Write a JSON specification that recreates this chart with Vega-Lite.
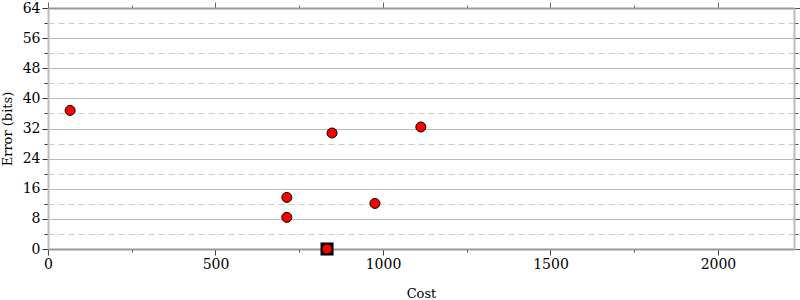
{
  "$schema": "https://vega.github.io/schema/vega-lite/v6.json",
  "width": 746,
  "height": 241,
  "autosize": {"type": "none"},
  "padding": {"left": 48, "top": 8, "right": 6, "bottom": 51},
  "background": "white",
  "config": {
    "view": {"stroke": null},
    "font": "DejaVu Serif",
    "axis": {"labelFont": "DejaVu Serif", "titleFont": "DejaVu Serif", "labelFontSize": 14, "titleFontSize": 13, "titleFontWeight": "normal", "labelColor": "black", "titleColor": "black"}
  },
  "data": {"values": [
    {"cost": 66, "error": 36.8, "best": false},
    {"cost": 848, "error": 30.8, "best": false},
    {"cost": 1113, "error": 32.4, "best": false},
    {"cost": 713, "error": 13.7, "best": false},
    {"cost": 713, "error": 8.4, "best": false},
    {"cost": 976, "error": 12.1, "best": false},
    {"cost": 833, "error": 0, "best": true}
  ]},
  "resolve": {"axis": {"x": "independent", "y": "independent"}},
  "layer": [
    {
      "transform": [{"filter": "datum.best"}],
      "mark": {"type": "point", "shape": "square", "filled": true, "color": "black", "size": 170, "opacity": 1},
      "encoding": {
        "x": {"field": "cost", "type": "quantitative", "scale": {"domain": [0, 2227], "nice": false, "zero": false},
          "axis": {"orient": "top", "title": null, "labels": false, "grid": false, "domain": true, "domainColor": "#999", "domainWidth": 2,
            "values": [0,250,500,750,1000,1250,1500,1750,2000],
            "tickColor": "#666", "tickSize": {"condition": {"test": "datum.value % 500 === 0", "value": 6}, "value": 3}}},
        "y": {"field": "error", "type": "quantitative", "scale": {"domain": [0, 64], "nice": false},
          "axis": {"orient": "right", "title": null, "labels": false, "grid": false, "domain": true, "domainColor": "#bbb", "domainWidth": 2,
            "values": [0,4,8,12,16,20,24,28,32,36,40,44,48,52,56,60,64],
            "tickColor": "#555", "tickSize": {"condition": {"test": "datum.value % 8 === 0", "value": 6}, "value": 4}}}
      }
    },
    {
      "mark": {"type": "point", "filled": true, "fill": "#ff0000", "stroke": "black", "strokeWidth": 1, "size": 100, "opacity": 1},
      "encoding": {
        "x": {"field": "cost", "type": "quantitative", "title": "Cost",
          "axis": {"orient": "bottom", "grid": false, "domainColor": "#999", "domainWidth": 2, "titlePadding": 16, "format": "d",
            "values": [0,250,500,750,1000,1250,1500,1750,2000],
            "labelExpr": "datum.value % 500 === 0 ? datum.label : ''",
            "labelFlush": false, "labelOverlap": false,
            "tickColor": "#444", "tickSize": {"condition": {"test": "datum.value % 500 === 0", "value": 6}, "value": 3}}},
        "y": {"field": "error", "type": "quantitative", "title": "Error (bits)",
          "axis": {"orient": "left", "grid": true, "domainColor": "#bbb", "domainWidth": 2, "titlePadding": 8,
            "values": [0,4,8,12,16,20,24,28,32,36,40,44,48,52,56,60,64],
            "labelExpr": "datum.value % 8 === 0 ? datum.label : ''",
            "labelFlush": false, "labelOverlap": false,
            "gridColor": {"condition": {"test": "datum.value % 8 === 0", "value": "#bbb"}, "value": "#ccc"},
            "gridDash": {"condition": {"test": "datum.value % 8 === 0", "value": []}, "value": [6, 4]},
            "tickColor": "#333", "tickSize": {"condition": {"test": "datum.value % 8 === 0", "value": 6}, "value": 4}}}
      }
    }
  ]
}
